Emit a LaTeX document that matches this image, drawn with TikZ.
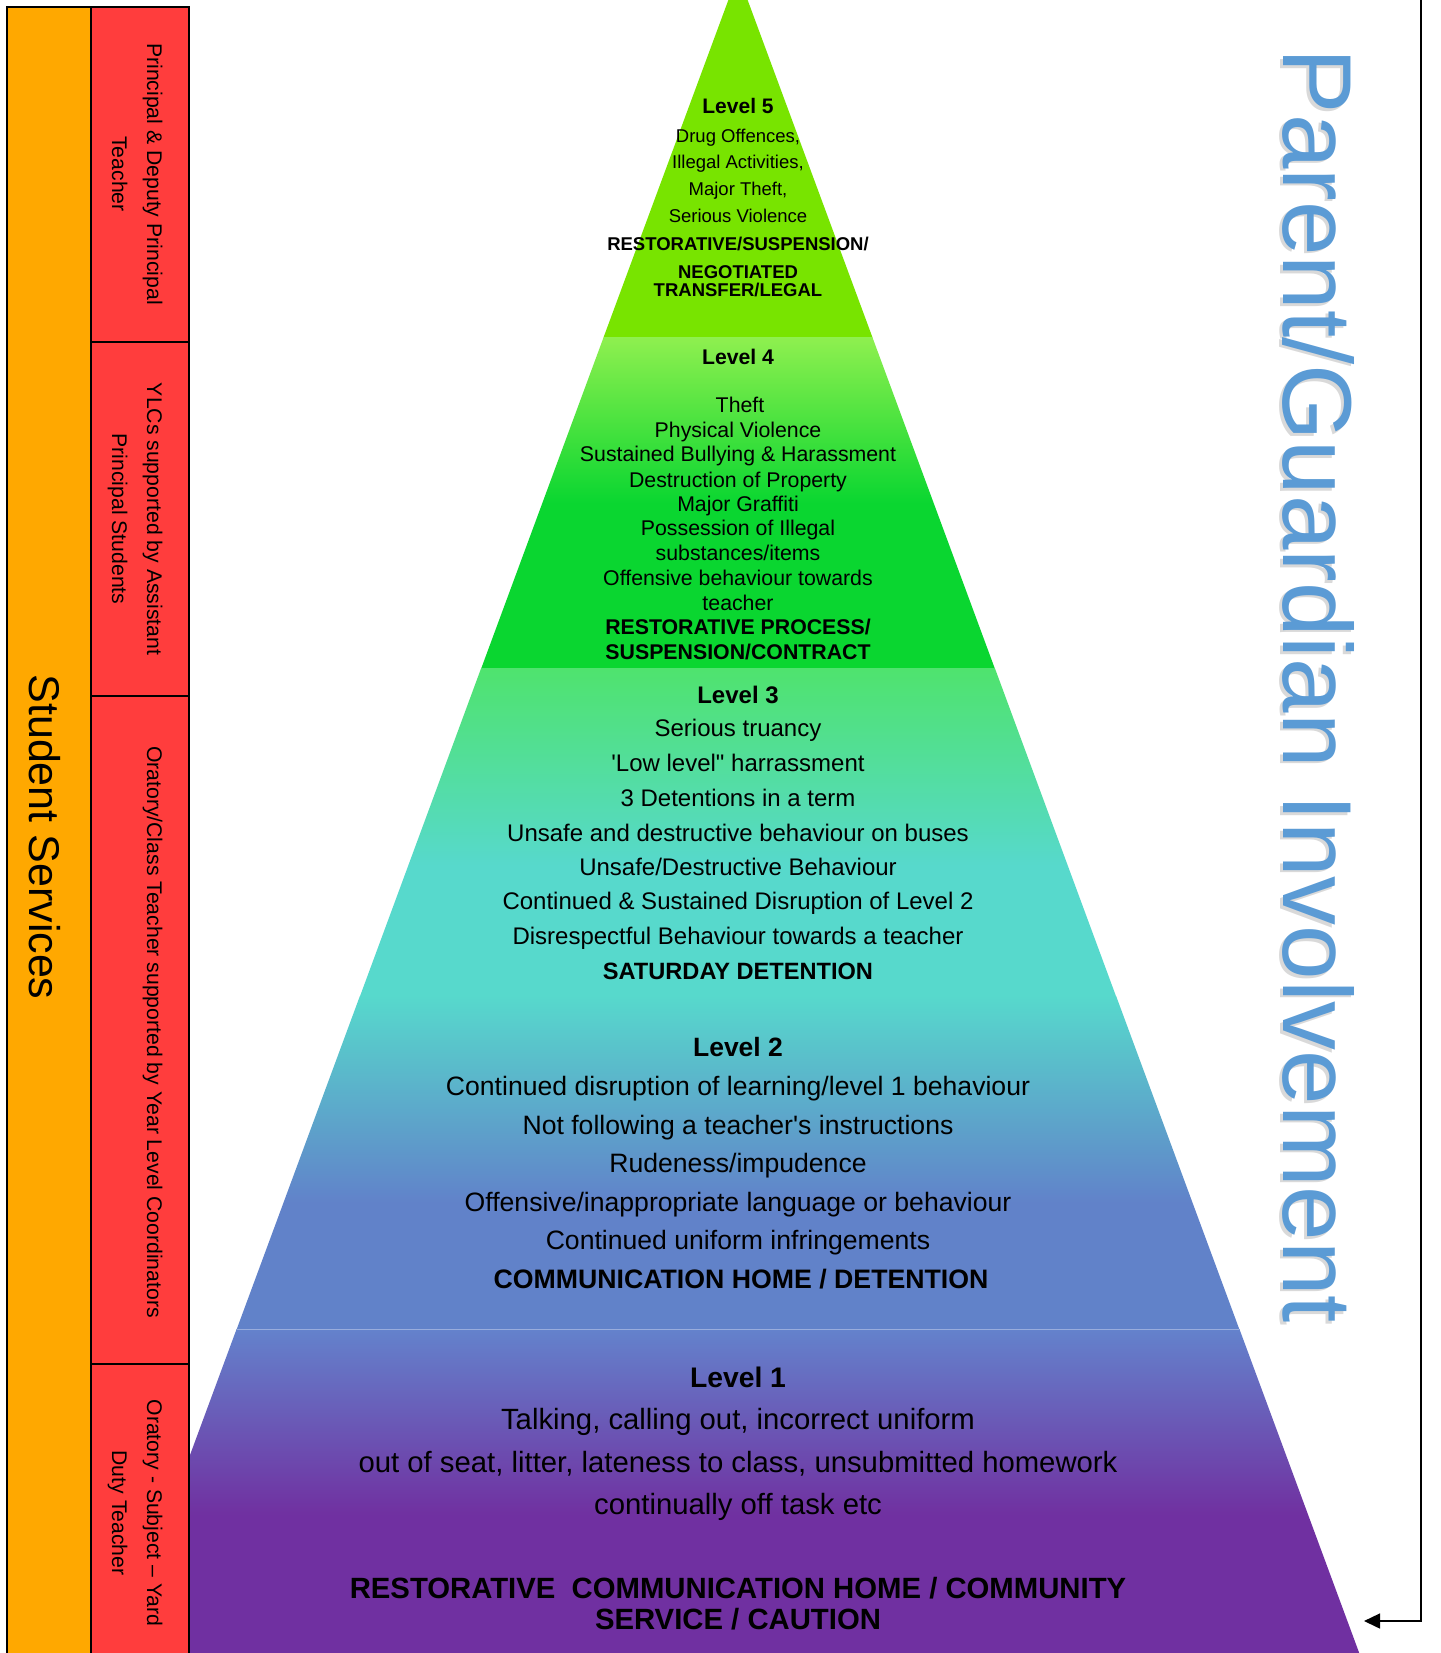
\documentclass[tikz,border=0pt]{standalone}
\usepackage{fontspec}
\setmainfont{Liberation Sans}
\newfontfamily\plainsans{Liberation Sans}[Ligatures=TeXOff]
\usetikzlibrary{arrows.meta}

\definecolor{lvfive}{RGB}{120,228,0}
\definecolor{barorange}{RGB}{255,168,0}
\definecolor{barred}{RGB}{255,61,61}
\definecolor{pgblue}{RGB}{91,155,213}

\pgfdeclareverticalshading{shfour}{100bp}{rgb(0bp)=(0.04,0.84,0.19); rgb(50bp)=(0.04,0.84,0.19); rgb(75bp)=(0.56,0.94,0.31); rgb(100bp)=(0.56,0.94,0.31)}
\pgfdeclareverticalshading{shthree}{100bp}{rgb(0bp)=(0.34,0.85,0.80); rgb(45bp)=(0.34,0.85,0.80); rgb(75bp)=(0.31,0.89,0.43); rgb(100bp)=(0.31,0.89,0.43)}
\pgfdeclareverticalshading{shtwo}{100bp}{rgb(0bp)=(0.38,0.51,0.79); rgb(44bp)=(0.38,0.51,0.79); rgb(75bp)=(0.34,0.85,0.80); rgb(100bp)=(0.34,0.85,0.80)}
\pgfdeclareverticalshading{shone}{100bp}{rgb(0bp)=(0.44,0.19,0.63); rgb(47bp)=(0.44,0.19,0.63); rgb(75bp)=(0.39,0.51,0.80); rgb(100bp)=(0.39,0.51,0.80)}

\newcommand\pyfs[1]{\fontsize{#1}{#1}\selectfont}

\tikzset{
  ln/.style={anchor=base, inner sep=0pt, text=black},
  sidetxt/.style={anchor=base, inner sep=0pt, rotate=-90, text=black, font=\pyfs{21.2}},
  barbox/.style={draw=black, line width=2.5pt},
}

\begin{document}
\begin{tikzpicture}[x=1pt,y=-1pt]
\useasboundingbox (0,0) rectangle (1440,1653);
\fill[white] (0,0) rectangle (1440,1653);

% pyramid
\coordinate (apex) at (738,-26);
\fill[lvfive] (apex) -- (603.5,337.5) -- (872.5,337.5) -- cycle;
\shade[shading=shfour] (603.7,337) -- (872.3,337) -- (994.8,668.5) -- (481.2,668.5) -- cycle;
\shade[shading=shthree] (481.2,668) -- (994.8,668) -- (1116.1,996.5) -- (359.9,996.5) -- cycle;
\shade[shading=shtwo] (359.9,996) -- (1116.1,996) -- (1239.4,1329.5) -- (236.6,1329.5) -- cycle;
\shade[shading=shone] (236.6,1329) -- (1239.4,1329) -- (1361.8,1660) -- (114.2,1660) -- cycle;
\draw[white, opacity=0.35, line width=1pt] (236.6,1329) -- (1239.4,1329);

% left bars
\filldraw[barbox, fill=barorange] (7,7) rectangle (91,1665);
\filldraw[barbox, fill=barred] (91,7) rectangle (189,342);
\filldraw[barbox, fill=barred] (91,342) rectangle (189,696);
\filldraw[barbox, fill=barred] (91,696) rectangle (189,1364);
\filldraw[barbox, fill=barred] (91,1364) rectangle (189,1665);

\node[anchor=base, inner sep=0pt, rotate=-90, font=\pyfs{43}] (ss) at (29,837) {Student Services};

\node[sidetxt] (b1a) at (147,174) {Principal \& Deputy Principal};
\node[sidetxt] (b1b) at (112,174) {Teacher};
\node[sidetxt] (b2a) at (147,519) {YLCs supported by Assistant};
\node[sidetxt] (b2b) at (112,519) {Principal Students};
\node[sidetxt] (b3a) at (147,1032) {Oratory/Class Teacher supported by Year Level Coordinators};
\node[sidetxt] (b4a) at (147,1513) {Oratory - Subject – Yard};
\node[sidetxt] (b4b) at (112,1513) {Duty Teacher};

% Parent/Guardian
\node[anchor=base, inner sep=0pt, rotate=-90, text=black, opacity=0.15, font=\pyfs{98}] (pgshadow) at (1280.5,688.5) {Parent/Guardian Involvement};
\node[anchor=base, inner sep=0pt, rotate=-90, text=pgblue, font=\pyfs{98}] (pgtext) at (1283,686) {Parent/Guardian Involvement};

\coordinate (pgtop) at (1421,-3);
\coordinate (pgend) at (1364,1621);
\draw[line width=1.5pt, -{Triangle[length=16pt,width=15pt]}] (pgtop) |- (pgend);

% Level 5
\node[ln, font=\pyfs{21}\bfseries] (l5h) at (738,114) {Level 5};
\node[ln, font=\pyfs{18.5}] (l5a) at (738,143) {Drug Offences,};
\node[ln, font=\pyfs{18.5}] (l5b) at (738,169) {Illegal Activities,};
\node[ln, font=\pyfs{18.5}] (l5c) at (738,196) {Major Theft,};
\node[ln, font=\pyfs{18.5}] (l5d) at (738,223) {Serious Violence};
\node[ln, font=\pyfs{18.5}\bfseries] (l5e) at (738,251) {RESTORATIVE/SUSPENSION/};
\node[ln, font=\pyfs{18.5}\bfseries] (l5f) at (738,278) {NEGOTIATED};
\node[ln, font=\pyfs{18.5}\bfseries] (l5g) at (738,296) {TRANSFER/LEGAL};

% Level 4
\node[ln, font=\pyfs{21.2}\bfseries] (l4h) at (738,364) {Level 4};
\node[ln, font=\pyfs{21.3}] (l4a) at (740,412) {Theft};
\node[ln, font=\pyfs{21.3}] (l4b) at (738,437) {Physical Violence};
\node[ln, font=\pyfs{21.3}] (l4c) at (738,461) {Sustained Bullying \& Harassment};
\node[ln, font=\pyfs{21.3}] (l4d) at (738,487) {Destruction of Property};
\node[ln, font=\pyfs{21.3}] (l4e) at (738,511) {Major Graffiti};
\node[ln, font=\pyfs{21.3}] (l4f) at (738,535) {Possession of Illegal};
\node[ln, font=\pyfs{21.3}] (l4g) at (738,560) {substances/items};
\node[ln, font=\pyfs{21.3}] (l4i) at (738,585) {Offensive behaviour towards};
\node[ln, font=\pyfs{21.3}] (l4j) at (738,610) {teacher};
\node[ln, font=\pyfs{21.3}\bfseries] (l4k) at (738,634) {RESTORATIVE PROCESS/};
\node[ln, font=\pyfs{21.3}\bfseries] (l4l) at (738,659) {SUSPENSION/CONTRACT};

% Level 3
\node[ln, font=\pyfs{24}\bfseries] (l3h) at (738,703) {Level 3};
\node[ln, font=\pyfs{24}] (l3a) at (738,736) {Serious truancy};
\node[ln, font=\pyfs{24}\plainsans] (l3b) at (738,771) {'Low level" harrassment};
\node[ln, font=\pyfs{24}] (l3c) at (738,806) {3 Detentions in a term};
\node[ln, font=\pyfs{24}] (l3d) at (738,841) {Unsafe and destructive behaviour on buses};
\node[ln, font=\pyfs{24}] (l3e) at (738,875) {Unsafe/Destructive Behaviour};
\node[ln, font=\pyfs{24}] (l3f) at (738,909) {Continued \& Sustained Disruption of Level 2};
\node[ln, font=\pyfs{24}] (l3g) at (738,944) {Disrespectful Behaviour towards a teacher};
\node[ln, font=\pyfs{23.6}\bfseries] (l3i) at (738,979) {SATURDAY DETENTION};

% Level 2
\node[ln, font=\pyfs{26.5}\bfseries] (l2h) at (738,1056) {Level 2};
\node[ln, font=\pyfs{26.6}] (l2a) at (738,1095) {Continued disruption of learning/level 1 behaviour};
\node[ln, font=\pyfs{26.6}\plainsans] (l2b) at (738,1134) {Not following a teacher's instructions};
\node[ln, font=\pyfs{26.6}] (l2c) at (738,1172) {Rudeness/impudence};
\node[ln, font=\pyfs{26.6}] (l2d) at (738,1211) {Offensive/inappropriate language or behaviour};
\node[ln, font=\pyfs{26.6}] (l2e) at (738,1249) {Continued uniform infringements};
\node[ln, font=\pyfs{26.7}\bfseries] (l2f) at (741,1288) {COMMUNICATION HOME / DETENTION};

% Level 1
\node[ln, font=\pyfs{28.3}\bfseries] (l1h) at (738,1387) {Level 1};
\node[ln, font=\pyfs{29.3}] (l1a) at (738,1429) {Talking, calling out, incorrect uniform};
\node[ln, font=\pyfs{29.3}] (l1b) at (738,1472) {out of seat, litter, lateness to class, unsubmitted homework};
\node[ln, font=\pyfs{29.3}] (l1c) at (738,1514) {continually off task etc};
\node[ln, font=\pyfs{29.3}\bfseries] (l1d) at (738,1598) {RESTORATIVE\ \ COMMUNICATION HOME / COMMUNITY};
\node[ln, font=\pyfs{29.3}\bfseries] (l1e) at (738,1629) {SERVICE / CAUTION};
\end{tikzpicture}
\end{document}
